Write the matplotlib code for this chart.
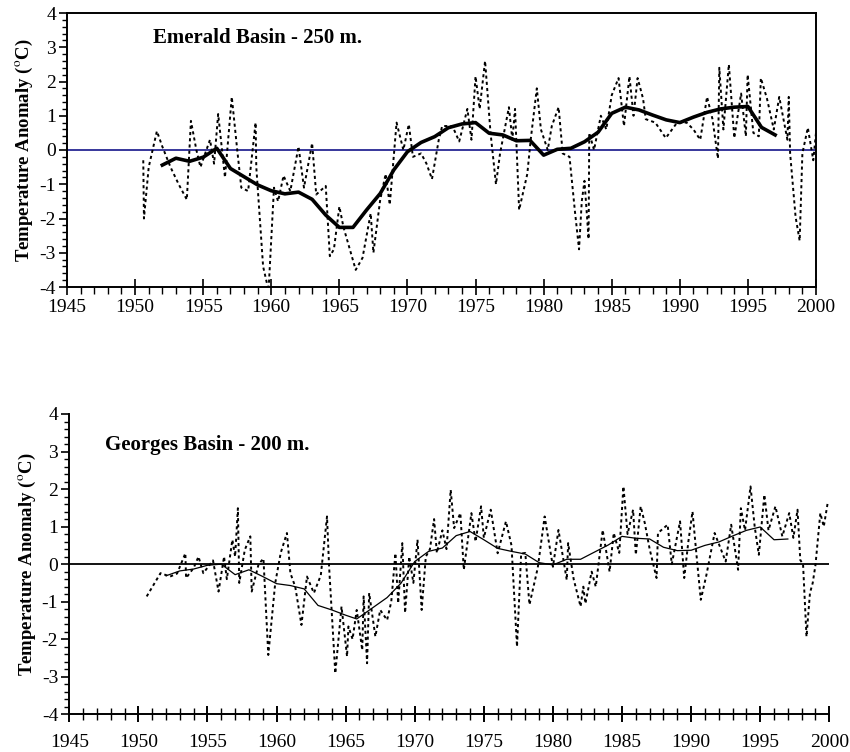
import matplotlib
matplotlib.use("Agg")
import matplotlib.pyplot as plt
from matplotlib.ticker import MultipleLocator

plt.rcParams['font.family'] = ['Liberation Serif', 'DejaVu Serif']
plt.rcParams['mathtext.fontset'] = 'stix'
plt.rcParams['axes.unicode_minus'] = False

# ---------------- Emerald Basin - 250 m ----------------
em_raw_year = [1950.6, 1950.65, 1951.0, 1951.6, 1952.0, 1952.6, 1953.2, 1953.8, 1954.1, 1954.5,
               1954.8, 1955.5, 1955.8, 1956.1, 1956.6, 1957.1, 1957.5, 1957.8, 1958.3, 1958.85,
               1958.9, 1959.4, 1959.8, 1960.2, 1960.5, 1960.9, 1961.4, 1962.0, 1962.4, 1963.0,
               1963.3, 1964.0, 1964.3, 1964.6, 1965.0, 1965.3, 1966.2, 1966.7, 1967.3, 1967.5,
               1968.0, 1968.4, 1968.7, 1969.2, 1969.7, 1970.1, 1970.4, 1971.0, 1971.4, 1971.8,
               1972.3, 1972.55, 1973.3, 1973.8, 1974.4, 1974.7, 1975.0, 1975.3, 1975.7, 1976.1,
               1976.5, 1976.8, 1977.45, 1977.7, 1977.9, 1978.2, 1978.8, 1979.05, 1979.5, 1979.8,
               1980.3, 1980.6, 1981.1, 1981.4, 1981.9, 1982.3, 1982.6, 1982.8, 1983.0, 1983.3,
               1983.35, 1983.7, 1984.2, 1984.6, 1985.0, 1985.5, 1985.9, 1986.3, 1986.6, 1986.9,
               1987.3, 1987.5, 1988.2, 1988.97, 1989.8, 1990.5, 1991.0, 1991.5, 1992.0, 1992.4,
               1992.8, 1992.9, 1993.2, 1993.6, 1994.0, 1994.5, 1994.85, 1994.98, 1995.4, 1995.8,
               1995.95, 1996.4, 1996.9, 1997.3, 1997.9, 1998.0, 1998.1, 1998.5, 1998.8, 1999.0,
               1999.4, 1999.8, 2000.0]
em_raw_val = [-0.3, -2.0, -0.5, 0.55, 0.1, -0.5, -1.0, -1.45, 0.85, 0.0,
              -0.5, 0.3, -0.4, 1.05, -0.8, 1.55, 0.0, -1.1, -1.2, 0.8,
              -0.5, -3.4, -4.1, -1.1, -1.5, -0.75, -1.2, 0.1, -1.1, 0.2,
              -1.3, -1.05, -3.1, -2.9, -1.65, -2.25, -3.5, -3.15, -1.85, -3.0,
              -1.45, -0.7, -1.6, 0.8, 0.0, 0.75, -0.2, -0.1, -0.4, -0.85,
              0.3, 0.7, 0.7, 0.25, 1.2, 0.3, 2.15, 1.2, 2.6, 0.5,
              -1.0, -0.1, 1.25, 0.3, 1.2, -1.75, -0.7, 0.3, 1.8, 0.6,
              0.0, 0.7, 1.25, -0.1, -0.2, -1.8, -2.9, -1.5, -0.9, -2.6,
              0.5, 0.0, 1.0, 0.6, 1.6, 2.1, 0.7, 2.15, 1.0, 2.1,
              1.5, 0.9, 0.8, 0.35, 0.8, 0.8, 0.6, 0.3, 1.55, 0.9,
              -0.25, 2.4, 0.6, 2.5, 0.35, 1.65, 0.4, 2.2, 0.5, 0.4,
              2.1, 1.5, 0.6, 1.55, 0.3, 1.55, -0.1, -1.95, -2.65, -0.1,
              0.65, -0.3, 0.5]

em_smooth_year = [1952, 1953, 1954, 1955, 1956, 1957, 1958, 1959, 1960, 1961, 1962, 1963,
                  1964, 1965, 1966, 1967, 1968, 1969, 1970, 1971, 1972, 1973, 1974, 1975,
                  1976, 1977, 1978, 1979, 1980, 1981, 1982, 1983, 1984, 1985, 1986, 1987,
                  1988, 1989, 1990, 1991, 1992, 1993, 1994, 1995, 1996, 1997]
em_smooth_val = [-0.44, -0.24, -0.33, -0.21, 0.05, -0.54, -0.78, -1.02, -1.19, -1.28, -1.23, -1.44,
                 -1.9, -2.26, -2.26, -1.75, -1.27, -0.58, -0.05, 0.22, 0.39, 0.65, 0.76, 0.8,
                 0.49, 0.44, 0.27, 0.28, -0.15, 0.02, 0.05, 0.24, 0.52, 1.07, 1.25, 1.17,
                 1.02, 0.88, 0.8, 0.96, 1.1, 1.2, 1.25, 1.27, 0.66, 0.44]

# ---------------- Georges Basin - 200 m ----------------
ge_raw_year = [1950.6, 1951.6, 1952.3, 1952.8, 1953.4, 1953.45, 1954.0, 1954.35, 1954.7, 1955.4,
               1955.8, 1956.2, 1956.4, 1956.8, 1957.0, 1957.2, 1957.3, 1957.7, 1958.1, 1958.2,
               1958.7, 1959.05, 1959.4, 1959.9, 1960.3, 1960.75, 1961.0, 1961.35, 1961.8, 1962.2,
               1962.7, 1963.2, 1963.65, 1963.8, 1964.25, 1964.7, 1965.1, 1965.2, 1965.5, 1965.8,
               1966.2, 1966.3, 1966.55, 1966.7, 1967.15, 1967.5, 1968.0, 1968.3, 1968.6, 1968.8,
               1969.1, 1969.3, 1969.6, 1969.9, 1970.2, 1970.5, 1970.8, 1971.1, 1971.4, 1971.6,
               1972.0, 1972.3, 1972.6, 1972.85, 1973.3, 1973.55, 1974.1, 1974.4, 1974.8, 1975.0,
               1975.5, 1976.0, 1976.6, 1977.0, 1977.4, 1977.7, 1978.0, 1978.3, 1978.9, 1979.4,
               1980.0, 1980.4, 1981.0, 1981.1, 1981.5, 1982.0, 1982.2, 1982.35, 1982.8, 1983.1,
               1983.6, 1984.1, 1984.4, 1984.8, 1985.1, 1985.4, 1985.8, 1986.0, 1986.35, 1986.65,
               1987.0, 1987.5, 1987.6, 1988.3, 1988.6, 1989.2, 1989.5, 1989.8, 1990.1, 1990.4,
               1990.7, 1991.1, 1991.7, 1992.5, 1992.9, 1993.4, 1993.6, 1993.9, 1994.3, 1994.6,
               1994.9, 1995.3, 1995.6, 1996.1, 1996.6, 1997.1, 1997.4, 1997.7, 1997.9, 1998.1,
               1998.35, 1998.6, 1998.8, 1999.0, 1999.35, 1999.6, 1999.9]
ge_raw_val = [-0.86, -0.24, -0.33, -0.25, 0.29, -0.37, -0.1, 0.2, -0.24, 0.1,
              -0.73, 0.2, -0.4, 0.65, 0.2, 1.49, -0.5, 0.38, 0.74, -0.73,
              0.0, 0.15, -2.42, -0.51, 0.3, 0.83, -0.24, -0.6, -1.62, -0.33,
              -0.77, -0.3, 1.27, -0.06, -2.91, -1.13, -2.46, -1.66, -2.0, -1.22,
              -2.29, -0.86, -2.64, -0.77, -1.93, -1.22, -1.49, -1.0, 0.29, -1.04,
              0.56, -1.3, 0.2, -0.5, 0.65, -1.22, 0.2, 0.4, 1.2, 0.3,
              0.9, 0.4, 1.98, 0.96, 1.36, -0.15, 1.36, 0.6, 1.54, 0.7,
              1.45, 0.29, 1.14, 0.5, -2.2, 0.28, 0.3, -1.08, -0.1, 1.27,
              -0.07, 0.91, -0.42, 0.56, -0.4, -1.13, -0.6, -1.05, -0.2, -0.6,
              0.91, -0.2, 0.83, 0.3, 2.07, 0.8, 1.45, 0.25, 1.54, 1.09,
              0.4, -0.37, 0.83, 1.05, 0.0, 1.14, -0.37, 0.6, 1.4, 0.2,
              -0.95, -0.3, 0.83, 0.07, 1.05, -0.15, 1.49, 0.9, 2.07, 1.0,
              0.25, 1.85, 0.9, 1.54, 0.74, 1.36, 0.7, 1.45, 0.11, 0.0,
              -1.93, -0.77, -0.5, -0.02, 1.36, 1.0, 1.67]

ge_smooth_year = [1952, 1953, 1954, 1955, 1956, 1957, 1958, 1959, 1960, 1961, 1962, 1963,
                  1964, 1965, 1965.8, 1967, 1968, 1969, 1970, 1971, 1972, 1973, 1974, 1975,
                  1976, 1977, 1978, 1979, 1980, 1981, 1982, 1983, 1984, 1985, 1986, 1987,
                  1988, 1989, 1990, 1991, 1992, 1993, 1994, 1995, 1996, 1997]
ge_smooth_val = [-0.31, -0.18, -0.13, -0.03, 0.0, -0.28, -0.15, -0.33, -0.52, -0.57, -0.66, -1.1,
                 -1.22, -1.36, -1.46, -1.15, -0.89, -0.51, 0.07, 0.34, 0.43, 0.76, 0.87, 0.65,
                 0.42, 0.34, 0.27, 0.04, -0.02, 0.13, 0.13, 0.32, 0.51, 0.74, 0.69, 0.67,
                 0.45, 0.36, 0.37, 0.5, 0.59, 0.75, 0.9, 0.99, 0.65, 0.67]

ylabel = r'Temperature Anomaly ($^{\mathrm{o}}$C)'
xticks = list(range(1945, 2001, 5))

W, H = 850, 752
fig = plt.figure(figsize=(W / 100, H / 100), dpi=100)

# ---- top axes ----
ax1 = fig.add_axes([67 / W, 1 - 287 / H, (816 - 67) / W, (287 - 13) / H])
ax1.axhline(0, color='#000080', lw=1.1, zorder=1)
ax1.plot(em_raw_year, em_raw_val, color='black', lw=1.4, linestyle=(0, (1.6, 1.6)), zorder=2)
ax1.plot(em_smooth_year, em_smooth_val, color='black', lw=2.6, zorder=3, solid_joinstyle='round')
ax1.set_xlim(1945, 2000)
ax1.set_ylim(-4, 4)
ax1.set_xticks(xticks)
ax1.xaxis.set_minor_locator(MultipleLocator(1))
ax1.yaxis.set_major_locator(MultipleLocator(1))
ax1.yaxis.set_minor_locator(MultipleLocator(0.2))
ax1.tick_params(axis='x', which='major', direction='inout', length=11, width=1.2, labelsize=14, pad=3)
ax1.tick_params(axis='x', which='minor', direction='out', length=5, width=1.0)
ax1.tick_params(axis='y', which='major', direction='out', length=6, width=1.2, labelsize=14, pad=2)
ax1.tick_params(axis='y', which='minor', direction='out', length=3.5, width=1.0)
for s in ax1.spines.values():
    s.set_linewidth(1.4)
ax1.set_ylabel(ylabel, fontsize=13.5, fontweight='bold', labelpad=3)
ax1.text(1951.3, 3.27, 'Emerald Basin - 250 m.', fontsize=15, fontweight='bold', va='center', ha='left')

# ---- bottom axes ----
ax2 = fig.add_axes([69.3 / W, 1 - 714.3 / H, (829.3 - 69.3) / W, (714.3 - 414) / H])
ax2.axhline(0, color='black', lw=1.3, zorder=1)
ax2.plot(ge_raw_year, ge_raw_val, color='black', lw=1.4, linestyle=(0, (1.6, 1.6)), zorder=2)
ax2.plot(ge_smooth_year, ge_smooth_val, color='black', lw=0.9, zorder=3)
ax2.set_xlim(1945, 2000)
ax2.set_ylim(-4, 4)
ax2.set_xticks(xticks)
ax2.xaxis.set_minor_locator(MultipleLocator(1))
ax2.yaxis.set_major_locator(MultipleLocator(1))
ax2.yaxis.set_minor_locator(MultipleLocator(0.2))
ax2.spines['top'].set_visible(False)
ax2.spines['right'].set_visible(False)
ax2.spines['left'].set_linewidth(1.4)
ax2.spines['bottom'].set_linewidth(1.4)
ax2.tick_params(axis='x', which='major', direction='inout', length=12, width=1.4, labelsize=14, pad=8)
ax2.tick_params(axis='x', which='minor', direction='inout', length=8, width=1.0)
ax2.tick_params(axis='y', which='major', direction='out', length=6, width=1.2, labelsize=14, pad=2)
ax2.tick_params(axis='y', which='minor', direction='out', length=3.5, width=1.0)
ax2.set_ylabel(ylabel, fontsize=13.5, fontweight='bold', labelpad=3)
ax2.text(1947.6, 3.18, 'Georges Basin - 200 m.', fontsize=15, fontweight='bold', va='center', ha='left')

fig.savefig('out.png', dpi=100)
